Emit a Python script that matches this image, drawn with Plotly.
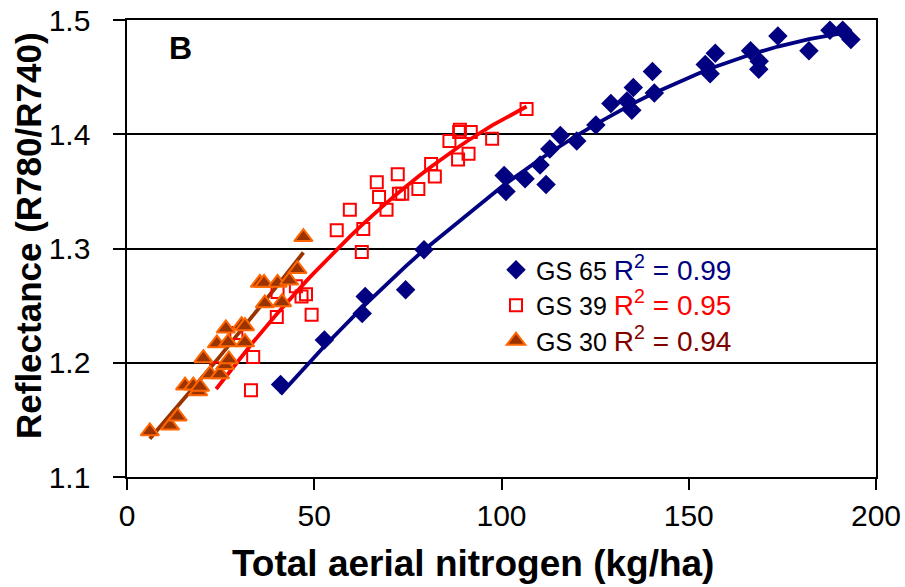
import numpy as np
import plotly.graph_objects as go

# ---------------- data ----------------
gs65_x = [41.0, 52.7, 62.8, 63.6, 74.4, 79.3, 100.7, 101.2, 106.3, 110.3, 111.9, 112.9,
          115.7, 120.1, 125.2, 129.2, 133.5, 134.8, 135.2, 140.3, 140.8, 154.4, 155.7,
          157.1, 166.5, 168.8, 168.7, 173.8, 182.1, 187.7, 191.1, 193.3]
gs65_y = [1.181, 1.220, 1.243, 1.258, 1.264, 1.299, 1.364, 1.350, 1.361, 1.373, 1.356, 1.387,
          1.399, 1.394, 1.408, 1.427, 1.429, 1.421, 1.441, 1.455, 1.436, 1.461, 1.453,
          1.471, 1.473, 1.464, 1.457, 1.486, 1.473, 1.491, 1.491, 1.483]

gs39_x = [23.8, 29.2, 33.1, 33.7, 40.0, 40.2, 45.1, 46.6, 47.8, 49.3, 56.0, 59.5, 62.7,
          63.1, 66.7, 67.3, 69.3, 72.3, 72.6, 73.5, 77.8, 81.2, 82.2, 86.1, 88.4, 88.7,
          88.9, 91.2, 91.8, 97.5, 106.7]
gs39_y = [1.195, 1.226, 1.176, 1.205, 1.240, 1.262, 1.267, 1.258, 1.260, 1.242, 1.316, 1.334,
          1.297, 1.317, 1.358, 1.345, 1.334, 1.365, 1.348, 1.348, 1.352, 1.374, 1.363,
          1.394, 1.378, 1.402, 1.404, 1.383, 1.402, 1.396, 1.422]

gs30_x = [6.1, 11.5, 13.5, 15.5, 17.7, 19.0, 19.5, 20.4, 22.2, 24.8, 24.0, 26.2, 27.2,
          27.0, 26.4, 30.6, 31.5, 31.5, 35.5, 36.6, 40.2, 36.8, 41.4, 43.3, 45.5, 47.1]
gs30_y = [1.140, 1.145, 1.153, 1.180, 1.180, 1.175, 1.179, 1.204, 1.190, 1.190, 1.217, 1.198,
          1.203, 1.218, 1.230, 1.233, 1.232, 1.218, 1.270, 1.270, 1.270, 1.252, 1.253,
          1.272, 1.282, 1.310]

series_names = ["GS 65", "GS 39", "GS 30"]
r2_labels = ["R<sup>2</sup> = 0.99", "R<sup>2</sup> = 0.95", "R<sup>2</sup> = 0.94"]
x_ticks = [0, 50, 100, 150, 200]
y_ticks = [1.1, 1.2, 1.3, 1.4, 1.5]

# ---------------- styles ----------------
NAVY = "#000080"
RED = "#FF0000"
BROWN = "#993300"
ORANGE = "#FF6600"
MAROON = "#800000"
FONT = "Liberation Sans, Arial, sans-serif"

fig = go.Figure()


def fit_line(xs, ys, deg=2):
    xs = np.asarray(xs, float)
    ys = np.asarray(ys, float)
    order = np.argsort(xs)
    xs_s = xs[order]
    coef = np.polyfit(xs, ys, deg)
    return xs_s, np.polyval(coef, xs_s)


# trend lines (Excel-style polynomial trendlines)
for xs, ys, col in [(gs65_x, gs65_y, NAVY), (gs39_x, gs39_y, RED), (gs30_x, gs30_y, BROWN)]:
    lx, ly = fit_line(xs, ys)
    fig.add_trace(go.Scatter(x=lx, y=ly, mode="lines", line=dict(color=col, width=3.8),
                             showlegend=False, hoverinfo="skip"))


def legend_name(i, col):
    return (f'{series_names[i]} '
            f'<span style="color:{col};font-size:28px">{r2_labels[i]}</span>')


# markers
fig.add_trace(go.Scatter(
    x=gs65_x, y=gs65_y, mode="markers", name=legend_name(0, NAVY),
    marker=dict(symbol="diamond", size=15, color=NAVY, line=dict(color=NAVY, width=0))))
fig.add_trace(go.Scatter(
    x=gs39_x, y=gs39_y, mode="markers", name=legend_name(1, RED),
    marker=dict(symbol="square-open", size=12, color=RED, line=dict(color=RED, width=2))))
fig.add_trace(go.Scatter(
    x=gs30_x, y=gs30_y, mode="markers", name=legend_name(2, MAROON),
    marker=dict(symbol="triangle-up", size=16, color=BROWN, line=dict(color=ORANGE, width=2))))

# plot area in pixels: x 127..876, y 20..477
W, H = 905, 587
L, R, T, B = 127, 29, 20, 110
pw, ph = W - L - R, H - T - B


def px2paper_x(px):
    return (px - L) / pw


def px2paper_y(py):
    return (H - B - py) / ph


fig.update_layout(
    width=W, height=H,
    margin=dict(l=L, r=R, t=T, b=B, pad=0, autoexpand=False),
    paper_bgcolor="white", plot_bgcolor="white",
    font=dict(family=FONT, color="black", size=30),
    showlegend=True,
    legend=dict(x=px2paper_x(496), y=px2paper_y(247), xanchor="left", yanchor="top",
                bgcolor="rgba(0,0,0,0)", font=dict(size=25, color="black"),
                tracegroupgap=0, itemwidth=30),
    xaxis=dict(range=[0, 200], tickvals=x_ticks, ticktext=[str(v) for v in x_ticks],
               showgrid=False, zeroline=False, showline=True, linecolor="black", linewidth=2,
               mirror=True, ticks="outside", ticklen=11, tickwidth=2, tickcolor="black",
               automargin=False,
               tickfont=dict(size=30, family=FONT)),
    yaxis=dict(range=[1.1, 1.5], tickvals=y_ticks,
               ticktext=[f"{v:.1f}\u00a0\u00a0" for v in y_ticks],
               showgrid=True, gridcolor="black", gridwidth=2, zeroline=False,
               showline=True, linecolor="black", linewidth=2, mirror=True,
               ticks="outside", ticklen=12, tickwidth=2, tickcolor="black",
               automargin=False,
               tickfont=dict(size=30, family=FONT)),
    annotations=[
        dict(text="<b>B</b>", x=px2paper_x(180), y=px2paper_y(48), xref="paper", yref="paper",
             xanchor="center", yanchor="middle",
             showarrow=False, font=dict(size=32, family=FONT, color="black")),
        dict(text="<b>Total aerial nitrogen (kg/ha)</b>", x=px2paper_x(473), y=px2paper_y(563),
             xref="paper", yref="paper", xanchor="center", yanchor="middle", showarrow=False,
             font=dict(size=37, family=FONT, color="black")),
        dict(text="<b>Reflectance (R780/R740)</b>", x=px2paper_x(28), y=px2paper_y(236),
             xref="paper", yref="paper", xanchor="center", yanchor="middle",
             showarrow=False, textangle=-90,
             font=dict(size=35, family=FONT, color="black")),
    ],
)

fig.write_html("out.html")
